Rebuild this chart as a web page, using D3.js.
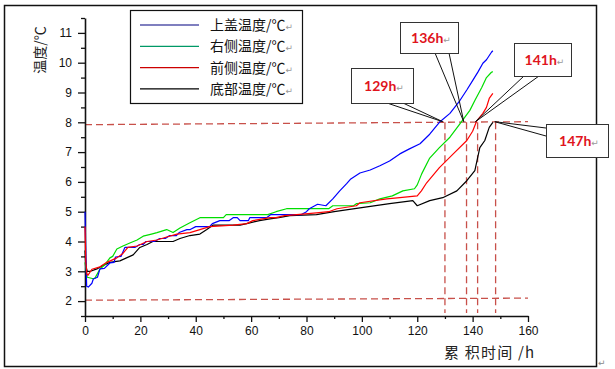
<!DOCTYPE html>
<html><head><meta charset="utf-8">
<script src="https://cdn.jsdelivr.net/npm/d3@7"></script>
<style>
html,body{margin:0;padding:0;background:#fff;}
svg{display:block;}
</style></head>
<body>
<svg id="chart" width="615" height="369"></svg>
<script>
// ---------- data ----------
const seriesNames = ["上盖温度/℃", "右侧温度/℃", "前侧温度/℃", "底部温度/℃"];
const seriesColors = ["#0000ff", "#00dd00", "#ff0000", "#000000"];

const topCover = [[0,5.0],[0.3,3.6],[0.6,2.5],[1.2,2.47],[2.5,2.6],[3,2.74],[4.5,2.8],[5.4,3.08],[7,3.1],[9,3.28],[10.5,3.3],[11,3.48],[13,3.5],[14.4,3.8],[18,3.8],[19.8,3.9],[21,3.9],[22,4.0],[25,4.0],[27,4.1],[29,4.1],[30.6,4.2],[33,4.2],[34,4.3],[36.8,4.4],[38,4.4],[40,4.5],[45,4.5],[46,4.6],[48.7,4.7],[52,4.7],[53.5,4.8],[55,4.8],[56,4.7],[59,4.7],[59.5,4.8],[65.6,4.8],[67,4.9],[78,4.9],[80,5.0],[81,5.1],[84,5.25],[87,5.2],[89.5,5.43],[92,5.7],[94.5,5.94],[96,6.1],[99.3,6.3],[103,6.4],[106.5,6.54],[110,6.7],[113.7,6.94],[117,7.1],[121,7.28],[124.5,7.6],[128,8.0],[131.8,8.3],[135.4,8.73],[138,9.1],[140,9.4],[142,9.7],[143.7,9.98],[145,10.1],[146.8,10.35],[147.3,10.4]];

const rightSide = [[0,3.3],[0.8,2.8],[3,2.75],[3.6,2.77],[5.4,3.08],[7,3.2],[9,3.45],[10,3.5],[11.5,3.75],[13.7,3.85],[16.2,3.95],[18.8,4.05],[21,4.18],[24,4.25],[26,4.3],[29.5,4.4],[31.8,4.3],[34.3,4.45],[37.9,4.63],[41.5,4.8],[50,4.8],[51,4.9],[66,4.9],[69,5.0],[72.8,5.1],[88,5.1],[89.5,5.2],[97,5.2],[98,5.27],[103,5.3],[106.5,5.43],[111,5.53],[114.8,5.7],[119,5.77],[120,5.9],[121.6,6.27],[124.5,6.8],[128,7.15],[131.8,7.5],[135.4,7.95],[139,8.4],[140.8,8.73],[143.3,9.17],[145,9.5],[146.8,9.68],[147.3,9.7]];

const frontSide = [[0,4.5],[0.3,3.3],[0.7,2.9],[1.1,2.87],[2.5,3.07],[5.4,3.15],[7.9,3.3],[11.5,3.45],[13.7,3.6],[15.5,3.8],[18.8,3.85],[22.4,4.0],[26,4.05],[29.5,4.15],[33.2,4.25],[37.9,4.3],[41.5,4.4],[45,4.5],[53.5,4.55],[58.4,4.6],[60.6,4.7],[66.8,4.8],[69,4.8],[72,4.87],[76.5,4.9],[83.6,4.96],[88,5.0],[91,5.1],[98,5.2],[99.3,5.3],[109,5.43],[113.7,5.47],[120,5.53],[121.5,5.7],[123.4,5.97],[128,6.48],[133,6.94],[137.9,7.39],[140,7.7],[141.5,8.05],[143.7,8.3],[145,8.5],[146,8.8],[147.3,8.97]];

const bottomSide = [[0,3.7],[0.3,3.2],[0.8,3.0],[2,3.0],[4.3,3.08],[6.6,3.2],[9,3.3],[12.6,3.35],[15,3.45],[17.4,3.55],[19.8,3.8],[22.4,3.9],[24.5,4.0],[31.8,4.0],[34.3,4.1],[37.9,4.2],[41.5,4.25],[44,4.4],[46.3,4.55],[56,4.55],[58.4,4.6],[63,4.7],[66.8,4.76],[70,4.8],[74,4.87],[83.6,4.9],[90,5.0],[99.3,5.13],[110,5.27],[118.4,5.37],[120,5.2],[124.5,5.37],[129.2,5.47],[134.3,5.7],[137.9,6.04],[140.8,6.38],[142.6,7.15],[144.4,7.39],[146,7.83],[147.3,8.0]];

const xTicks = [0,20,40,60,80,100,120,140,160];
const yTicks = [2,3,4,5,6,7,8,9,10,11];
const refHLines = [[0,7.92,160,8.02],[0,2.03,160,2.1]];   // [t0,v0,t1,v1]
const refVLines = [130, 137.8, 141.8, 148.3];
const calloutLabels = ["129h","136h","141h","147h"];
const calloutTimes = [129.2, 136.8, 141.0, 148.0];
const calloutValue = 8.02;

// ---------- layout ----------
const svg = d3.select("#chart");
const x = d3.scaleLinear().domain([0,160]).range([85,528]);
const y = d3.scaleLinear().domain([1.5,11.5]).range([316,18]);

// outer frame
svg.append("rect").attr("x",4.5).attr("y",5.5).attr("width",592).attr("height",361)
  .attr("fill","none").attr("stroke","#111").attr("stroke-width",1.5);
svg.append("text").attr("x",598).attr("y",366).attr("font-size",9)
  .attr("font-family","DejaVu Sans").attr("fill","#888").text("↵");

// reference dashed lines
const dashColor = "#c8504a";
refHLines.forEach(d=>{
  svg.append("line").attr("x1",x(d[0])).attr("y1",y(d[1])).attr("x2",x(d[2])).attr("y2",y(d[3]))
    .attr("stroke",dashColor).attr("stroke-width",1.3).attr("stroke-dasharray","7,4");
});
refVLines.forEach(t=>{
  svg.append("line").attr("x1",x(t)).attr("y1",y(8.0)).attr("x2",x(t)).attr("y2",y(1.6))
    .attr("stroke",dashColor).attr("stroke-width",1.3).attr("stroke-dasharray","7,4");
});

// axes
const axisFont = "Liberation Sans, Arial, sans-serif";
const gy = svg.append("g").attr("transform","translate(85,0)")
  .call(d3.axisLeft(y).tickValues(yTicks).tickSize(7).tickSizeOuter(0).tickPadding(6).tickFormat(d3.format("d")));
const gyMinor = svg.append("g").attr("transform","translate(85,0)")
  .call(d3.axisLeft(y).tickValues(yTicks.map(v=>v-0.5).concat([11.5])).tickSize(4).tickSizeOuter(0).tickFormat(""));
const gx = svg.append("g").attr("transform","translate(0,316)")
  .call(d3.axisBottom(x).tickValues(xTicks).tickSize(6).tickSizeOuter(0).tickPadding(4).tickFormat(d3.format("d")));
const gxMinor = svg.append("g").attr("transform","translate(0,316)")
  .call(d3.axisBottom(x).tickValues(xTicks.slice(1).map(v=>v-10)).tickSize(3).tickSizeOuter(0).tickFormat(""));
[gy,gyMinor,gx,gxMinor].forEach(g=>{
  g.selectAll("path.domain").attr("stroke","#111").attr("stroke-width",1.6);
  g.selectAll(".tick line").attr("stroke","#111").attr("stroke-width",1.3);
  g.selectAll(".tick text").attr("font-family",axisFont).attr("font-size",12).attr("fill","#111");
});
gyMinor.select("path.domain").remove();
gxMinor.select("path.domain").remove();

// axis titles
const cjk = "Noto Sans CJK SC, sans-serif";
svg.append("text").attr("transform","translate(45,50) rotate(-90)").attr("text-anchor","middle")
  .attr("font-family",cjk).attr("font-size",14).attr("fill","#222").text("温度/℃");
svg.append("text").attr("x",444).attr("y",358)
  .attr("font-family",cjk).attr("font-size",15).attr("letter-spacing",1.2).attr("fill","#222").text("累 积时间 /h");

// series
const line = d3.line().x(d=>x(d[0])).y(d=>y(d[1]));
const allSeries = [topCover, rightSide, frontSide, bottomSide];
[3,1,0,2].forEach(i=>{
  svg.append("path").datum(allSeries[i]).attr("d",line)
    .attr("fill","none").attr("stroke",seriesColors[i]).attr("stroke-width",1.2).attr("stroke-linejoin","round");
});

// legend
const lg = svg.append("g");
lg.append("rect").attr("x",130.5).attr("y",10.5).attr("width",172).attr("height",93)
  .attr("fill","#fff").attr("stroke","#111").attr("stroke-width",1.2);
const legendColors = ["#000080","#009966","#cc0000","#000000"];
seriesNames.forEach((n,i)=>{
  const yy = 25 + i*21.3;
  lg.append("line").attr("x1",140).attr("x2",199).attr("y1",yy).attr("y2",yy)
    .attr("stroke",legendColors[i]).attr("stroke-width",1.2);
  const t = lg.append("text").attr("x",210).attr("y",yy+5).attr("font-family",cjk).attr("font-size",14).attr("fill","#111");
  t.append("tspan").text(n);
  t.append("tspan").attr("font-family","DejaVu Sans").attr("font-size",9).attr("fill","#999").text("↵");
});

// callouts
const boxes = [
  {x:351,y:68,w:62,h:35, p1:[387,103], p2:[403,103]},
  {x:400,y:22,w:58,h:31, p1:[435,53], p2:[449,53]},
  {x:514,y:43,w:57,h:33, p1:[524,76], p2:[539,76]},
  {x:546,y:124,w:62,h:33, p1:[546,128], p2:[546,136]}
];
calloutLabels.forEach((lab,i)=>{
  const b = boxes[i];
  const tip = [x(calloutTimes[i]), y(calloutValue)];
  const g = svg.append("g");
  g.append("line").attr("x1",b.p1[0]).attr("y1",b.p1[1]).attr("x2",tip[0]).attr("y2",tip[1]).attr("stroke","#111").attr("stroke-width",1);
  g.append("line").attr("x1",b.p2[0]).attr("y1",b.p2[1]).attr("x2",tip[0]).attr("y2",tip[1]).attr("stroke","#111").attr("stroke-width",1);
  g.append("rect").attr("x",b.x+0.5).attr("y",b.y+0.5).attr("width",b.w).attr("height",b.h)
    .attr("fill","#fff").attr("stroke","#333").attr("stroke-width",1);
  const t = g.append("text").attr("x",b.x+b.w/2+2).attr("y",b.y+b.h/2+5).attr("text-anchor","middle")
    .attr("font-family","Lato, Open Sans, sans-serif").attr("font-weight","bold").attr("font-size",14).attr("fill","#e0141c");
  t.append("tspan").text(lab);
  t.append("tspan").attr("font-family","DejaVu Sans").attr("font-weight","normal").attr("font-size",9).attr("fill","#999").text("↵");
});
</script>
</body></html>
